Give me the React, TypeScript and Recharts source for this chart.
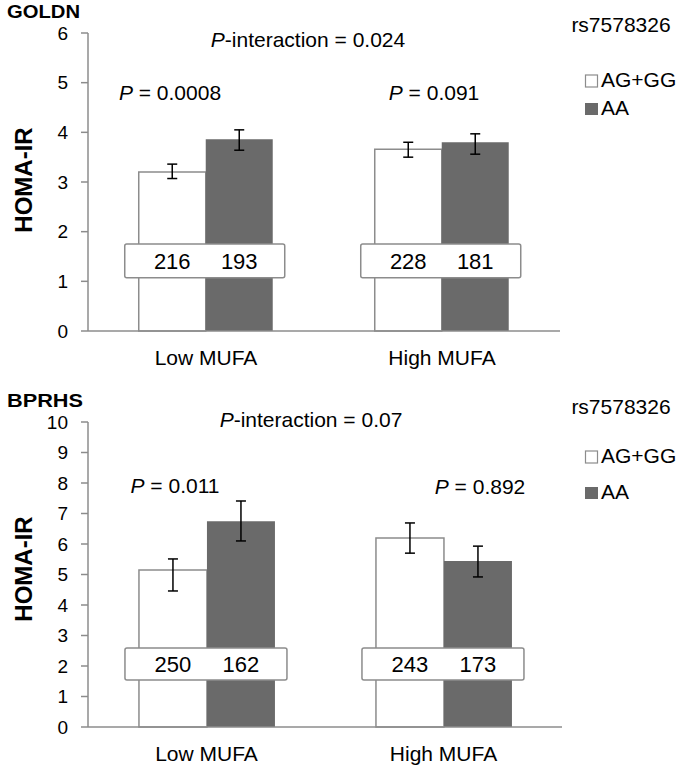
import React from 'react';
import { BarChart, Bar, XAxis, YAxis, ErrorBar, LabelList } from 'recharts';

// ---- data ----
const categories = ['Low MUFA', 'High MUFA'];

// GOLDN
const goldnAG = [3.2, 3.66];
const goldnAGErr = [[0.13, 0.16], [0.16, 0.14]];
const goldnAA = [3.86, 3.8];
const goldnAAErr = [[0.22, 0.19], [0.24, 0.17]];
const goldnNAG = [216, 228];
const goldnNAA = [193, 181];
const goldnTicks = [0, 1, 2, 3, 4, 5, 6];
const goldnBox = [1.07, 1.75];

// BPRHS
const bprhsAG = [5.15, 6.2];
const bprhsAGErr = [[0.69, 0.36], [0.5, 0.49]];
const bprhsAA = [6.75, 5.44];
const bprhsAAErr = [[0.65, 0.66], [0.52, 0.49]];
const bprhsNAG = [250, 243];
const bprhsNAA = [162, 173];
const bprhsTicks = [0, 1, 2, 3, 4, 5, 6, 7, 8, 9, 10];
const bprhsBox = [1.54, 2.59];

const seriesNames = ['AG+GG', 'AA'];

const AXIS = '#8c8c8c';
const DARK = '#6a6a6a';
const FONT = '"Liberation Sans", Arial, sans-serif';

function buildRows(ag, agErr, aa, aaErr, nAG, nAA) {
  return categories.map((c, i) => ({
    cat: c,
    ag: ag[i],
    agErr: agErr[i],
    aa: aa[i],
    aaErr: aaErr[i],
    nAG: nAG[i],
    nAA: nAA[i],
  }));
}

const goldnRows = buildRows(goldnAG, goldnAGErr, goldnAA, goldnAAErr, goldnNAG, goldnNAA);
const bprhsRows = buildRows(bprhsAG, bprhsAGErr, bprhsAA, bprhsAAErr, bprhsNAG, bprhsNAA);

function makeBox(rows, box) {
  return (p) => {
    const vb = p.viewBox || p;
    const { x, y, width, height } = vb;
    const idx = p.index;
    const row = rows[idx];
    if (row == null || x == null) return null;
    const ppu = height / row.aa;
    const base = y + height;
    const top = base - box[1] * ppu;
    const bot = base - box[0] * ppu;
    const left = x - width - 14;
    const right = x + width + 12;
    const mid = (top + bot) / 2;
    return (
      <g>
        <rect x={left} y={top} width={right - left} height={bot - top} rx={2} fill="#fff" stroke={AXIS} strokeWidth={1.5} />
        <text x={x - width / 2} y={mid} dy="0.36em" textAnchor="middle" fontSize={22} fill="#000" fontFamily={FONT}>
          {row.nAG}
        </text>
        <text x={x + width / 2} y={mid} dy="0.36em" textAnchor="middle" fontSize={22} fill="#000" fontFamily={FONT}>
          {row.nAA}
        </text>
      </g>
    );
  };
}

function Panel({ rows, ticks, box, height, margin }) {
  const max = ticks[ticks.length - 1];
  return (
    <BarChart
      width={682}
      height={height}
      data={rows}
      margin={margin}
      barCategoryGap="21.5%"
      barGap={0}
    >
      <XAxis
        xAxisId="num"
        type="number"
        domain={[0, 2]}
        ticks={[0, 1, 2]}
        tick={false}
        axisLine={false}
        tickLine={{ stroke: AXIS, strokeWidth: 1.5 }}
        tickSize={7}
        height={0}
      />
      <XAxis
        xAxisId="cat"
        dataKey="cat"
        interval={0}
        axisLine={{ stroke: AXIS, strokeWidth: 1.5 }}
        tickLine={false}
        tickSize={0}
        tickMargin={19}
        height={30}
        tick={{ fill: '#000', fontSize: 21, fontFamily: FONT }}
      />
      <YAxis
        domain={[0, max]}
        ticks={ticks}
        interval={0}
        width={40}
        axisLine={{ stroke: AXIS, strokeWidth: 1.5 }}
        tickLine={{ stroke: AXIS, strokeWidth: 1.5 }}
        tickSize={7}
        tickMargin={13}
        tick={{ fill: '#000', fontSize: 19, fontFamily: FONT }}
      />
      <Bar xAxisId="cat" dataKey="ag" fill="#fff" stroke={AXIS} strokeWidth={1.5} isAnimationActive={false}>
        <ErrorBar dataKey="agErr" width={5} stroke="#000" strokeWidth={1.5} direction="y" />
      </Bar>
      <Bar xAxisId="cat" dataKey="aa" fill={DARK} isAnimationActive={false}>
        <ErrorBar dataKey="aaErr" width={5} stroke="#000" strokeWidth={1.5} direction="y" />
        <LabelList dataKey="nAA" content={makeBox(rows, box)} />
      </Bar>
    </BarChart>
  );
}

function PText({ cx, y, rest }) {
  return (
    <text x={cx} y={y} textAnchor="middle" fontSize={21} fill="#000">
      <tspan fontStyle="italic">P</tspan>
      {rest}
    </text>
  );
}

function Legend({ y1, y2 }) {
  return (
    <g fontSize={21} fill="#000">
      <rect x={585.5} y={y1 - 12} width={12} height={12} fill="#fff" stroke={AXIS} strokeWidth={1.2} />
      <text x={601} y={y1}>{seriesNames[0]}</text>
      <rect x={585} y={y2 - 12} width={13} height={12} fill={DARK} />
      <text x={601} y={y2}>{seriesNames[1]}</text>
    </g>
  );
}

export default function App() {
  return (
    <div style={{ position: 'absolute', left: 0, top: 0, width: 682, height: 769, background: '#fff', fontFamily: FONT }}>
      <div style={{ position: 'absolute', left: 0, top: 0 }}>
        <Panel rows={goldnRows} ticks={goldnTicks} box={goldnBox} height={375} margin={{ top: 33, right: 122, bottom: 14, left: 48 }} />
      </div>
      <div style={{ position: 'absolute', left: 0, top: 380 }}>
        <Panel rows={bprhsRows} ticks={bprhsTicks} box={bprhsBox} height={389} margin={{ top: 42, right: 120, bottom: 12, left: 48 }} />
      </div>
      <svg width={682} height={769} style={{ position: 'absolute', left: 0, top: 0, pointerEvents: 'none', fontFamily: FONT }}>
        <text x={7} y={18} fontSize={18} fontWeight="bold" textLength={73} lengthAdjust="spacingAndGlyphs">GOLDN</text>
        <text x={7} y={407} fontSize={18} fontWeight="bold" textLength={76} lengthAdjust="spacingAndGlyphs">BPRHS</text>

        <text transform="translate(32,180) rotate(-90)" textAnchor="middle" fontSize={24} fontWeight="bold">HOMA-IR</text>
        <text transform="translate(32,569) rotate(-90)" textAnchor="middle" fontSize={24} fontWeight="bold">HOMA-IR</text>

        <PText cx={308} y={47} rest="-interaction = 0.024" />
        <PText cx={170} y={100} rest=" = 0.0008" />
        <PText cx={434} y={100} rest=" = 0.091" />

        <PText cx={311} y={427} rest="-interaction = 0.07" />
        <PText cx={175} y={493} rest=" = 0.011" />
        <PText cx={480} y={494} rest=" = 0.892" />

        <text x={621} y={32} textAnchor="middle" fontSize={21}>rs7578326</text>
        <text x={621} y={414} textAnchor="middle" fontSize={21}>rs7578326</text>

        <Legend y1={87} y2={115} />
        <Legend y1={463} y2={499} />
      </svg>
    </div>
  );
}
